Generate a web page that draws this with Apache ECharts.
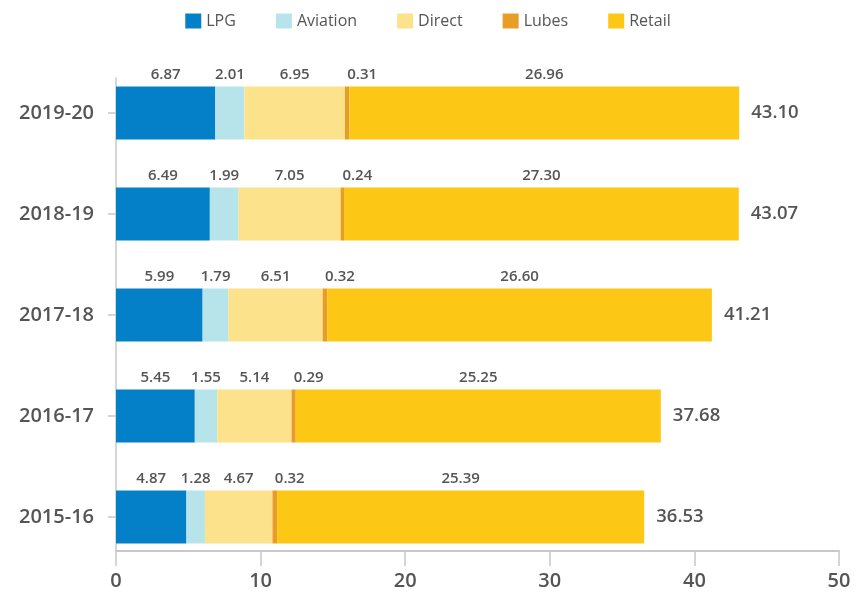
<!DOCTYPE html>
<html>
<head>
<meta charset="utf-8">
<script src="https://cdn.jsdelivr.net/npm/echarts@6/dist/echarts.min.js"></script>
<style>html,body{margin:0;padding:0;background:#fff}#c{width:856px;height:592px}</style>
</head>
<body>
<div id="c"></div>
<script>
// Categories bottom-to-top
const years = ['2015-16', '2016-17', '2017-18', '2018-19', '2019-20'];
const lpg      = [4.87, 5.45, 5.99, 6.49, 6.87];
const aviation = [1.28, 1.55, 1.79, 1.99, 2.01];
const direct   = [4.67, 5.14, 6.51, 7.05, 6.95];
const lubes    = [0.32, 0.29, 0.32, 0.24, 0.31];
const retail   = [25.39, 25.25, 26.60, 27.30, 26.96];
const totals   = [36.53, 37.68, 41.21, 43.07, 43.10];
const xTicks   = [0, 10, 20, 30, 40, 50];

const seriesNames = ['LPG', 'Aviation', 'Direct', 'Lubes', 'Retail'];
const seriesData = [lpg, aviation, direct, lubes, retail];
const colors = ['#0480C8', '#B7E3EB', '#FDE28C', '#E89E26', '#FDC716'];
const font = 'Open Sans';
const textColor = '#555';

const chart = echarts.init(document.getElementById('c'));

const barSeries = seriesNames.map((name, i) => ({
  name: name,
  type: 'bar',
  stack: 'total',
  xAxisIndex: 0,
  yAxisIndex: 0,
  barWidth: 53,
  itemStyle: { color: colors[i] },
  data: seriesData[i],
  label: {
    show: true,
    position: 'top',
    distance: 4,
    offset: name === 'Lubes' ? [15, 0] : [0, 0],
    color: textColor,
    fontFamily: font,
    fontSize: 15,
    fontWeight: 600,
    formatter: p => p.value.toFixed(2)
  }
}));

barSeries.push({
  name: 'Total',
  type: 'bar',
  stack: 'total',
  xAxisIndex: 0,
  yAxisIndex: 0,
  barWidth: 53,
  itemStyle: { color: 'transparent' },
  data: totals.map(() => 0),
  label: {
    show: true,
    position: 'right',
    distance: 12,
    color: textColor,
    fontFamily: font,
    fontSize: 18.5,
    fontWeight: 600,
    formatter: p => totals[p.dataIndex].toFixed(2)
  }
});

chart.setOption({
  animation: false,
  color: colors,
  legend: {
    data: seriesNames,
    top: 8,
    left: 'center',
    icon: 'rect',
    itemWidth: 16,
    itemHeight: 15,
    itemGap: 40,
    textStyle: { color: textColor, fontFamily: font, fontSize: 16 }
  },
  grid: [
    { left: 116, right: 17, top: 62.5, height: 505, containLabel: false },
    { left: 116, right: 17, top: 78, bottom: 41, containLabel: false }
  ],
  xAxis: [
    { gridIndex: 0, type: 'value', min: 0, max: 50, interval: 10, show: false },
    {
      gridIndex: 1, type: 'value', min: xTicks[0], max: xTicks[xTicks.length - 1], interval: 10,
      axisLine: { show: true, lineStyle: { color: '#c8c8c8', width: 2 } },
      axisTick: { show: true, length: 15, lineStyle: { color: '#c8c8c8', width: 1.5 } },
      splitLine: { show: false },
      axisLabel: { color: textColor, fontFamily: font, fontSize: 20, fontWeight: 600, margin: 20 }
    }
  ],
  yAxis: [
    {
      gridIndex: 0, type: 'category', data: years,
      offset: 6,
      axisLine: { show: false },
      axisTick: { show: true, alignWithLabel: true, length: 8, lineStyle: { color: '#c8c8c8', width: 1.5 } },
      axisLabel: { color: textColor, fontFamily: font, fontSize: 20, fontWeight: 600, margin: 16 }
    },
    {
      gridIndex: 1, type: 'value', min: 0, max: 1,
      axisLine: { show: true, lineStyle: { color: '#c8c8c8', width: 1.5 } },
      axisTick: { show: false },
      axisLabel: { show: false },
      splitLine: { show: false }
    }
  ],
  series: barSeries
});
</script>
</body>
</html>
